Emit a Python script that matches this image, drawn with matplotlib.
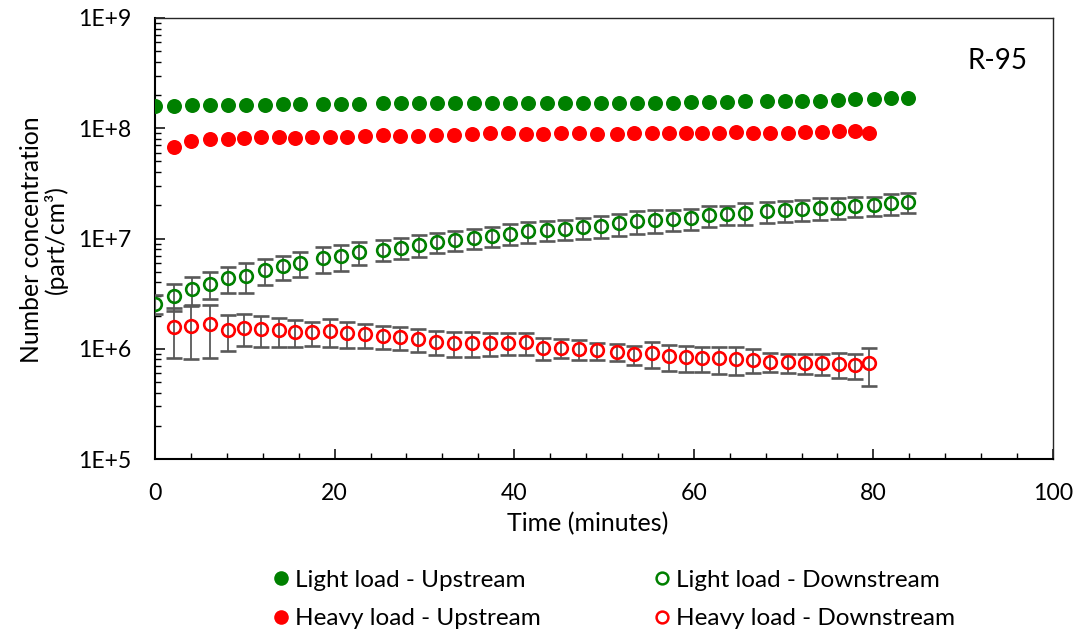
import numpy as np
import matplotlib
matplotlib.use('Agg')
import matplotlib.pyplot as plt
from matplotlib.lines import Line2D
from matplotlib.ticker import LogLocator, MultipleLocator, FuncFormatter, NullFormatter

plt.rcParams['font.family'] = ['Lato', 'DejaVu Sans']

# sampling times (minutes)
light_t = [0.0, 2.1, 4.1, 6.1, 8.1, 10.1, 12.2, 14.2, 16.2, 18.7, 20.7, 22.7, 25.4, 27.4,
           29.4, 31.4, 33.4, 35.5, 37.5, 39.5, 41.5, 43.6, 45.7, 47.7, 49.7, 51.7, 53.7,
           55.7, 57.7, 59.7, 61.7, 63.7, 65.7, 68.2, 70.2, 72.1, 74.1, 76.1, 78.0, 80.1,
           82.0, 83.9]
heavy_t = [2.1, 4.0, 6.1, 8.1, 9.9, 11.8, 13.8, 15.6, 17.5, 19.5, 21.4, 23.4, 25.4, 27.3,
           29.3, 31.3, 33.3, 35.3, 37.3, 39.3, 41.3, 43.2, 45.2, 47.2, 49.2, 51.4, 53.3,
           55.3, 57.2, 59.1, 60.9, 62.8, 64.7, 66.6, 68.5, 70.5, 72.4, 74.3, 76.2, 77.9,
           79.5]

# number concentration (part/cm3)
light_up = [1.60e8, 1.60e8, 1.62e8, 1.62e8, 1.62e8, 1.64e8, 1.64e8, 1.66e8, 1.66e8, 1.66e8,
            1.66e8, 1.66e8, 1.69e8, 1.69e8, 1.69e8, 1.69e8, 1.69e8, 1.69e8, 1.69e8, 1.69e8,
            1.71e8, 1.71e8, 1.71e8, 1.71e8, 1.71e8, 1.71e8, 1.71e8, 1.71e8, 1.71e8, 1.74e8,
            1.74e8, 1.74e8, 1.76e8, 1.76e8, 1.76e8, 1.78e8, 1.78e8, 1.81e8, 1.84e8, 1.86e8,
            1.87e8, 1.88e8]
light_down = [2.56e6, 3.03e6, 3.49e6, 3.90e6, 4.36e6, 4.61e6, 5.16e6, 5.60e6, 6.01e6, 6.62e6,
              6.91e6, 7.51e6, 7.94e6, 8.28e6, 8.76e6, 9.26e6, 9.66e6, 1.01e7, 1.05e7, 1.11e7,
              1.16e7, 1.19e7, 1.22e7, 1.26e7, 1.31e7, 1.37e7, 1.43e7, 1.47e7, 1.49e7, 1.53e7,
              1.62e7, 1.66e7, 1.71e7, 1.76e7, 1.81e7, 1.84e7, 1.89e7, 1.91e7, 1.97e7, 2.00e7,
              2.08e7, 2.14e7]
light_down_err = [0.51e6, 0.85e6, 1.01e6, 1.09e6, 1.18e6, 1.38e6, 1.39e6, 1.40e6, 1.56e6, 1.72e6,
                  1.87e6, 1.80e6, 1.75e6, 1.82e6, 1.93e6, 1.94e6, 1.93e6, 2.02e6, 2.21e6, 2.44e6,
                  2.44e6, 2.50e6, 2.56e6, 2.77e6, 3.01e6, 3.15e6, 3.29e6, 3.38e6, 3.13e6, 3.37e6,
                  3.56e6, 3.32e6, 3.76e6, 3.70e6, 3.98e6, 3.86e6, 4.16e6, 4.01e6, 4.14e6, 4.00e6,
                  4.37e6, 4.49e6]
heavy_up = [6.8e7, 7.6e7, 7.94e7, 8.06e7, 8.17e7, 8.28e7, 8.28e7, 8.17e7, 8.28e7, 8.41e7,
            8.41e7, 8.52e7, 8.63e7, 8.52e7, 8.52e7, 8.63e7, 8.77e7, 8.88e7, 9.0e7, 9.0e7,
            8.88e7, 8.88e7, 9.0e7, 9.0e7, 8.88e7, 8.88e7, 9.0e7, 9.0e7, 9.0e7, 9.0e7,
            9.1e7, 9.1e7, 9.25e7, 9.1e7, 9.1e7, 9.1e7, 9.25e7, 9.25e7, 9.38e7, 9.38e7,
            9.0e7]
heavy_down = [1.57e6, 1.62e6, 1.66e6, 1.49e6, 1.55e6, 1.51e6, 1.47e6, 1.43e6, 1.41e6, 1.45e6,
              1.39e6, 1.35e6, 1.31e6, 1.28e6, 1.22e6, 1.16e6, 1.13e6, 1.13e6, 1.13e6, 1.13e6,
              1.14e6, 1.02e6, 1.02e6, 9.93e5, 9.65e5, 9.40e5, 8.88e5, 9.14e5, 8.51e5, 8.41e5,
              8.28e5, 8.17e5, 8.06e5, 7.94e5, 7.62e5, 7.51e5, 7.41e5, 7.41e5, 7.30e5, 7.10e5,
              7.41e5]
heavy_down_err = [7.54e5, 8.10e5, 8.30e5, 5.36e5, 4.96e5, 4.68e5, 4.41e5, 3.86e5, 3.53e5, 4.06e5,
                  3.75e5, 3.38e5, 3.14e5, 3.07e5, 2.93e5, 2.90e5, 2.94e5, 2.94e5, 2.71e5, 2.60e5,
                  2.62e5, 2.24e5, 2.04e5, 1.99e5, 1.74e5, 1.60e5, 1.78e5, 2.47e5, 2.21e5, 2.27e5,
                  2.15e5, 2.21e5, 2.26e5, 1.91e5, 1.52e5, 1.50e5, 1.48e5, 1.63e5, 1.90e5, 1.78e5,
                  2.82e5]

labels = ['Light load - Upstream', 'Light load - Downstream',
          'Heavy load - Upstream', 'Heavy load - Downstream']
green = '#008000'
red = '#FF0000'
errcol = '#595959'

W, H = 1081, 634
fig = plt.figure(figsize=(W / 100, H / 100), dpi=100)
ax = fig.add_axes([155 / W, 1 - 459 / H, (1053 - 155) / W, (459 - 18) / H])

ms_fill = 10.8
ms_open = 9.1
mew_open = 1.9
ebar = dict(ecolor=errcol, elinewidth=1.3, capsize=5.8, capthick=1.3)

ax.plot(light_t, light_up, 'o', color=green, ms=ms_fill, mew=0, zorder=3)
ax.errorbar(light_t, light_down, yerr=light_down_err, fmt='o', mfc='none', mec=green,
            ms=ms_open, mew=mew_open, zorder=3, **ebar)
ax.plot(heavy_t, heavy_up, 'o', color=red, ms=ms_fill, mew=0, zorder=3)
ax.errorbar(heavy_t, heavy_down, yerr=heavy_down_err, fmt='o', mfc='none', mec=red,
            ms=ms_open, mew=mew_open, zorder=3, **ebar)

ax.set_yscale('log')
ax.set_xlim(0, 100)
ax.set_ylim(1e5, 1e9)
ax.xaxis.set_major_locator(MultipleLocator(20))
ax.xaxis.set_minor_locator(MultipleLocator(4))
ax.yaxis.set_major_locator(LogLocator(base=10))
ax.yaxis.set_minor_locator(LogLocator(base=10, subs=np.arange(2, 10)))
ax.yaxis.set_minor_formatter(NullFormatter())
ax.yaxis.set_major_formatter(FuncFormatter(lambda v, p: '1E+%d' % int(round(np.log10(v)))))

ax.tick_params(which='both', direction='in', top=False, right=False, colors='black',
               labelsize=16.6, pad=17)
ax.tick_params(which='major', length=7.5, width=1.1)
ax.tick_params(which='minor', length=4.5, width=1.0)

for side in ['left', 'bottom']:
    ax.spines[side].set_linewidth(1.5)
    ax.spines[side].set_color('black')
for side in ['top', 'right']:
    ax.spines[side].set_linewidth(1.0)
    ax.spines[side].set_color('#262626')

fig.text(998 / W, 1 - 61 / H, 'R-95', ha='center', va='center', fontsize=20)
fig.text(588 / W, 1 - 524 / H, 'Time (minutes)', ha='center', va='center', fontsize=18)
fig.text(44 / W, 1 - 240 / H, 'Number concentration\n(part/cm³)', rotation=90,
         ha='center', va='center', multialignment='center', fontsize=17.8, linespacing=1.05)

# legend, two columns
handles = [
    Line2D([], [], ls='none', marker='o', color=green, ms=10.5, mew=0),
    Line2D([], [], ls='none', marker='o', mfc='none', mec=green, ms=8.5, mew=1.8),
    Line2D([], [], ls='none', marker='o', color=red, ms=10.5, mew=0),
    Line2D([], [], ls='none', marker='o', mfc='none', mec=red, ms=8.5, mew=1.8),
]
leg_kw = dict(frameon=False, fontsize=17.5, handlelength=0.6, handletextpad=0.25,
              borderpad=0, borderaxespad=0, labelspacing=0.72, loc='center left')
fig.legend([handles[0], handles[2]], [labels[0], labels[2]],
           bbox_to_anchor=(274 / W, 1 - 599.5 / H), **leg_kw)
fig.legend([handles[1], handles[3]], [labels[1], labels[3]],
           bbox_to_anchor=(655 / W, 1 - 599.5 / H), **leg_kw)

fig.savefig('out.png', dpi=100)
